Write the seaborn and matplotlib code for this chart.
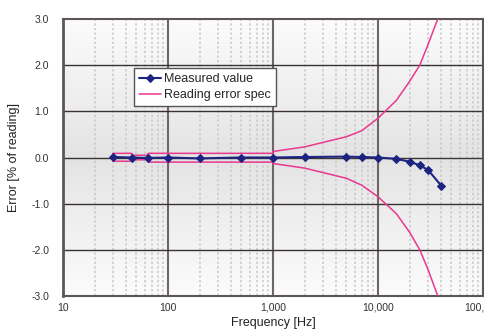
import numpy as np
import pandas as pd
import matplotlib
matplotlib.use("Agg")
import matplotlib.pyplot as plt
import seaborn as sns
from matplotlib.ticker import FixedLocator, NullFormatter, FuncFormatter

# measured error vs frequency
meas_freq = [30, 45, 65, 100, 200, 500, 1000, 2000, 5000, 7000, 10000,
             15000, 20000, 25000, 30000, 40000]
meas_err = [0.01, 0.0, -0.01, 0.0, -0.02, 0.0, 0.0, 0.01, 0.02, 0.01, 0.0,
            -0.03, -0.09, -0.17, -0.27, -0.61]

# reading error spec (step boxes at low frequency, widening above 1 kHz)
spec_freq = [30, 45, 45, 65, 65, 1000, 1000, 2000, 5000, 7000, 10000,
             15000, 20000, 25000, 30000, 40000, 50000]
spec_upper = [0.09, 0.09, 0.05, 0.05, 0.09, 0.09, 0.13, 0.23, 0.45, 0.58, 0.85,
              1.24, 1.65, 2.0, 2.45, 3.2, 4.0]
spec_lower = [-0.08, -0.08, -0.05, -0.05, -0.1, -0.1, -0.13, -0.23, -0.45, -0.6, -0.85,
              -1.22, -1.62, -2.0, -2.43, -3.2, -4.0]
box_edges = [30, 45, 65]
box_top = [0.09, 0.09, 0.09]
box_bottom = [-0.08, -0.08, -0.1]

x_ticks = [10, 100, 1000, 10000, 100000]
y_ticks = [-3.0, -2.0, -1.0, 0.0, 1.0, 2.0, 3.0]

sns.set_style("white")
plt.rcParams["font.family"] = ["Liberation Sans", "DejaVu Sans"]

fig = plt.figure(figsize=(4.84, 3.34), dpi=100)
ax = fig.add_axes([63 / 484, 1 - 296 / 334, 420 / 484, 277 / 334])

# background gradient: lighter at top and bottom, grey in the middle
g = np.linspace(-1, 1, 200)
shade = 0.985 - 0.095 * (1 - np.abs(g))
ax.imshow(np.tile(shade[:, None], (1, 2)), cmap="gray", vmin=0, vmax=1,
          extent=[0, 1, 0, 1], transform=ax.transAxes, aspect="auto", zorder=0)

ax.set_xscale("log")
ax.set_xlim(10, 100000)
ax.set_ylim(-3, 3)

spec_color = "#e8388f"
meas_color = "#1c2482"

df_spec = pd.DataFrame({"f": spec_freq, "up": spec_upper, "lo": spec_lower})
sns.lineplot(data=df_spec, x="f", y="up", ax=ax, estimator=None, sort=False,
             color=spec_color, lw=1.1, zorder=3, label="Reading error spec")
sns.lineplot(data=df_spec, x="f", y="lo", ax=ax, estimator=None, sort=False,
             color=spec_color, lw=1.1, zorder=3)
ax.vlines(box_edges, box_bottom, box_top, color=spec_color, lw=1.1, zorder=3)

df_meas = pd.DataFrame({"f": meas_freq, "err": meas_err})
sns.lineplot(data=df_meas, x="f", y="err", ax=ax, color=meas_color, lw=1.5,
             marker="D", markersize=4, markeredgecolor=meas_color, zorder=4,
             label="Measured value")

# grid
minor = [m * d for d in [10, 100, 1000, 10000] for m in range(2, 10)]
for v in minor:
    ax.axvline(v, color="#c8c8c8", lw=1.1, ls=(0, (1.5, 1.5)), zorder=1)
for v in x_ticks[1:-1]:
    ax.axvline(v, color="#6e6666", lw=1.5, zorder=2)
for v in y_ticks[1:-1]:
    ax.axhline(v, color="#3a3232", lw=1.0, zorder=2)

ax.xaxis.set_major_locator(FixedLocator(x_ticks))
ax.xaxis.set_minor_formatter(NullFormatter())
ax.xaxis.set_major_formatter(FuncFormatter(lambda v, p: f"{int(v):,}"))
ax.set_yticks(y_ticks)
ax.yaxis.set_major_formatter(FuncFormatter(lambda v, p: f"{v:.1f}"))
ax.tick_params(axis="both", which="both", length=0, labelsize=7.5, colors="#333333")
ax.tick_params(axis="y", pad=10)
ax.tick_params(axis="x", pad=5)

for s in ax.spines.values():
    s.set_color("#5e5555")
    s.set_linewidth(1.5)
ax.spines["left"].set_linewidth(2)

ax.set_xlabel("Frequency [Hz]", fontsize=9, color="#222222", labelpad=3)
ax.set_ylabel("Error [% of reading]", fontsize=9, color="#222222", labelpad=8)

handles, labels = ax.get_legend_handles_labels()
order = [labels.index("Measured value"), labels.index("Reading error spec")]
leg = ax.legend([handles[i] for i in order], [labels[i] for i in order],
                loc="upper left", bbox_to_anchor=(0.169, 0.822), borderaxespad=0,
                fontsize=9, frameon=True, fancybox=False, handlelength=1.8,
                handletextpad=0.2, borderpad=0.4, labelspacing=0.3)
leg.get_frame().set_edgecolor("#555555")
leg.get_frame().set_linewidth(1.0)
leg.get_frame().set_facecolor("white")
leg.get_frame().set_alpha(1)
leg.set_zorder(6)

fig.savefig("out.png", dpi=100)
